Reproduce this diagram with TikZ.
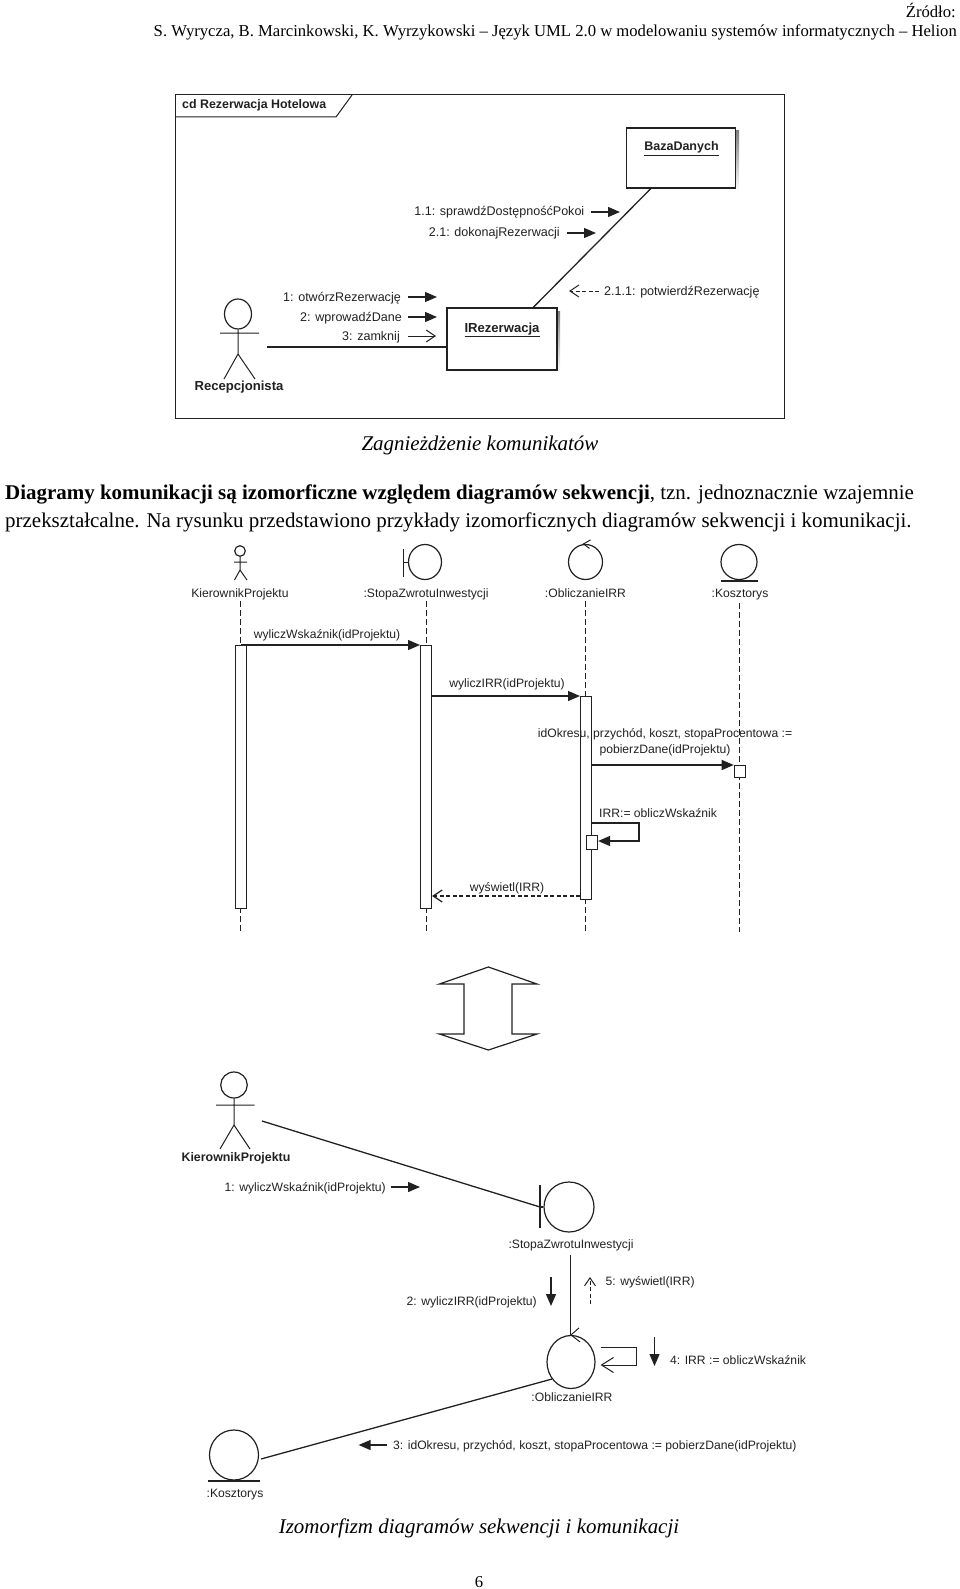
\documentclass[tikz,border=0pt]{standalone}
\usepackage{fontspec}
\setmainfont{Liberation Serif}
\setsansfont{Liberation Sans}
\usetikzlibrary{arrows.meta,shapes.geometric,calc}
\definecolor{ink}{gray}{0.13}
\definecolor{shade}{gray}{0.78}
\tikzset{
  x=1pt,y=-1pt,
  pagetxt/.style={inner sep=0,font=\rmfamily\fontsize{20.95}{25}\selectfont,text=black},
  headtxt/.style={inner sep=0,font=\rmfamily\fontsize{16.65}{20}\selectfont,text=black},
  lab/.style={inner sep=0,text height=10.5pt,text depth=2.5pt,font=\sffamily\fontsize{12.15}{14}\selectfont,text=ink},
  flab/.style={lab,font=\sffamily\fontsize{12.55}{14}\selectfont},
  blab/.style={inner sep=0,text height=10.5pt,text depth=2.5pt,font=\sffamily\bfseries\fontsize{12.4}{14}\selectfont,text=ink},
  fblab/.style={blab,font=\sffamily\bfseries\fontsize{13.1}{14}\selectfont},
  ln/.style={draw=ink,line width=1pt},
  lnh/.style={draw=ink,line width=1.3pt},
  filled/.style={ln,line width=1.3pt,-{Triangle[length=12pt,width=10pt]}},
  openh/.style={ln,-{Straight Barb[length=9pt,width=12pt]}},
  dashopen/.style={ln,dashed,dash pattern=on 4pt off 2.5pt,-{Straight Barb[length=9pt,width=12pt]}},
  life/.style={ln,dash pattern=on 6pt off 3pt},
  objbox/.style={rectangle,draw=ink,line width=1.2pt,fill=white,inner sep=0,align=center},
  actv/.style={rectangle,draw=ink,line width=1.1pt,fill=white,inner sep=0,anchor=north west},
  oval/.style={ellipse,draw=ink,line width=1.2pt,inner sep=0},
}
\begin{document}
\begin{tikzpicture}
\useasboundingbox (0,0) rectangle (960,1589);
% page text
\node[headtxt,anchor=east] (h1) at (956,10) {Źródło:};
\node[headtxt,anchor=east] (h2) at (957,32.5) {S. Wyrycza, B. Marcinkowski, K. Wyrzykowski – Język UML 2.0 w modelowaniu systemów informatycznych – Helion};
\node[pagetxt,anchor=center] (cap1) at (480,445) {\itshape Zagnieżdżenie komunikatów};
\node[pagetxt,anchor=west] (p1) at (5,494) {\textbf{Diagramy komunikacji są izomorficzne względem diagramów sekwencji}, tzn. jednoznacznie wzajemnie};
\node[pagetxt,anchor=west] (p2) at (5,522) {przekształcalne. Na rysunku przedstawiono przykłady izomorficznych diagramów sekwencji i komunikacji.};
\node[pagetxt,anchor=center] (cap2) at (479,1528) {\itshape Izomorfizm diagramów sekwencji i komunikacji};
\node[headtxt,anchor=center] (pg) at (479,1582) {6};

% ---- frame diagram
\draw[ln] (175,95) rectangle (784,418);
\draw[ln] (175,117) -- (336,117) -- (352,95);
\node[blab,anchor=west] (tab) at (182,105) {cd Rezerwacja Hotelowa};

\fill[shade] (629,131) rectangle (739,191);
\fill[shade] (450,311) rectangle (560,373);
\node[objbox,minimum width=109pt,minimum height=60pt] (baza) at (681,158) {};
\node[objbox,minimum width=110pt,minimum height=62pt] (irez) at (502,339) {};
\node[fblab,font=\sffamily\bfseries\fontsize{12.5}{14}\selectfont] (bazat) at (681.5,147) {\underline{BazaDanych}};
\node[fblab] (irezt) at (502,328) {\underline{IRezerwacja}};
\draw[lnh] (baza) -- (irez);

% actor 1
\node[oval,minimum width=27pt,minimum height=30pt] (a1h) at (238,314) {};
\coordinate (a1l) at (220,333);
\coordinate (a1r) at (259,333);
\coordinate (a1b) at (238,354);
\coordinate (a1f1) at (224,379);
\coordinate (a1f2) at (255,379);
\draw[ln] (a1h.south) -- (a1b) (a1l) -- (a1r) (a1f1) -- (a1b) -- (a1f2);
\node[fblab] (a1t) at (239,386) {Recepcjonista};
\coordinate (a1c) at (267,347);
\draw[lnh] (a1c) -- (a1c -| irez.west);

\node[flab,anchor=east] (m1) at (401,297) {1: otwórzRezerwację};
\node[flab,anchor=east] (m2) at (402,317) {2: wprowadźDane};
\node[flab,anchor=east] (m3) at (400,336) {3: zamknij};
\node[flab,anchor=east] (m4) at (584.5,212) {1.1: sprawdźDostępnośćPokoi};
\node[flab,anchor=east] (m5) at (560,233) {2.1: dokonajRezerwacji};
\node[flab,anchor=west] (m6) at (604,291) {2.1.1: potwierdźRezerwację};
\coordinate (m1e) at (437,297);
\coordinate (m2e) at (437,317);
\coordinate (m3e) at (436,336);
\coordinate (m4e) at (620,212);
\coordinate (m5e) at (596,233);
\coordinate (m6e) at (569,291);
\draw[filled] ([xshift=7pt]m1.east) -- (m1e);
\draw[filled] ([xshift=6pt]m2.east) -- (m2e);
\draw[openh] ([xshift=8pt]m3.east) -- (m3e);
\draw[filled] ([xshift=6.5pt]m4.east) -- (m4e);
\draw[filled] ([xshift=7pt]m5.east) -- (m5e);
\draw[dashopen] ([xshift=-5pt]m6.west) -- (m6e);

% ---- sequence diagram
\node[oval,minimum width=10.6pt,minimum height=10.6pt] (sa) at (240,551) {};
\coordinate (sb) at (240,570);
\draw[ln] (sa.south) -- (sb) (234,562) -- (247,562) (234.5,580) -- (sb) -- (247,580);
\node[lab] (sat) at (240,593) {KierownikProjektu};
\node[oval,minimum width=33pt,minimum height=35pt] (sbo) at (425,562) {};
\coordinate (sbb) at (403.5,562);
\draw[ln] (403.5,549) -- (403.5,577) (sbb) -- (sbo.west);
\node[lab] (sbt) at (426,593) {:StopaZwrotuInwestycji};
\node[oval,minimum width=34pt,minimum height=35pt] (sc) at (585.5,562) {};
\draw[ln] ($(sc.north)+(5,-4)$) -- ($(sc.north)+(-2,0)$) -- ($(sc.north)+(4,4.5)$);
\node[lab] (sct) at (585.5,593) {:ObliczanieIRR};
\node[oval,minimum width=36pt,minimum height=35pt] (sd) at (739,562) {};
\draw[lnh] (721,581) -- (758,581);
\node[lab] (sdt) at (740,593) {:Kosztorys};
\coordinate (l1t) at (240,601); \coordinate (l1b) at (240,932);
\coordinate (l2t) at (426,601); \coordinate (l2b) at (426,932);
\coordinate (l3t) at (585.5,601); \coordinate (l3b) at (585.5,932);
\coordinate (l4t) at (739,603); \coordinate (l4b) at (739,932);
\draw[life] (l1t) -- (l1b);
\draw[life] (l2t) -- (l2b);
\draw[life] (l3t) -- (l3b);
\draw[life] (l4t) -- (l4b);
\node[actv,minimum width=11pt,minimum height=263pt] (ba) at (235,645) {};
\node[actv,minimum width=11pt,minimum height=263pt] (bb) at (420,645) {};
\node[actv,minimum width=11pt,minimum height=203pt] (bc) at (580,696) {};
\node[actv,minimum width=11pt,minimum height=12pt] (bd) at (733.7,765) {};
\node[actv,minimum width=11pt,minimum height=14pt] (be) at (586,835) {};
\node[lab] (t1) at (327,634) {wyliczWskaźnik(idProjektu)};
\node[lab] (t2) at (507,683) {wyliczIRR(idProjektu)};
\node[inner sep=0,align=center,text=ink,font=\sffamily\fontsize{12.15}{16}\selectfont] (t3) at (665,742) {idOkresu, przychód, koszt, stopaProcentowa :=\\pobierzDane(idProjektu)};
\node[lab,anchor=west] (t4) at (599,813) {IRR:= obliczWskaźnik};
\node[lab] (t5) at (507,887) {wyświetl(IRR)};
\draw[filled] (ba.north) -- (bb.north west);
\draw[filled] (bb.east |- bc.north) -- (bc.north west);
\draw[filled] (bc.east |- bd.north) -- (bd.north west);
\coordinate (sl1) at (639,823);
\coordinate (sl2) at (639,841);
\draw[filled] (bc.east |- sl1) -- (sl1) -- (sl2) -- (be.east |- sl2);
\draw[dashopen,line width=1.2pt] (bc.west |- 0,896) -- (bb.east |- 0,896);

% ---- big double arrow
\coordinate (d1) at (488.4,967);
\coordinate (d2) at (537,984);
\coordinate (d3) at (512,984);
\coordinate (d4) at (512,1034);
\coordinate (d5) at (537,1034);
\coordinate (d6) at (488.4,1050);
\coordinate (d7) at (439.4,1034);
\coordinate (d8) at (464,1034);
\coordinate (d9) at (464,984);
\coordinate (d10) at (439.4,984);
\draw[ln,line width=1.2pt] (d1) -- (d2) -- (d3) -- (d4) -- (d5) -- (d6) -- (d7) -- (d8) -- (d9) -- (d10) -- cycle;

% ---- communication diagram
\node[oval,minimum width=26.5pt,minimum height=26pt] (ca) at (234,1085) {};
\coordinate (cab) at (234,1125);
\draw[ln] (ca.south) -- (cab) (216,1105) -- (254.5,1105) (220,1149) -- (cab) -- (250,1149);
\node[blab] (cat) at (236,1157) {KierownikProjektu};
\coordinate (cac) at (262,1121);
\node[oval,minimum width=50pt,minimum height=50pt] (cb) at (569,1207) {};
\coordinate (cbb) at (540,1207);
\draw[lnh] (540,1185) -- (540,1228) (cbb) -- (cb.west);
\draw[lnh] (cac) -- (cbb);
\node[lab] (cbt) at (571,1244) {:StopaZwrotuInwestycji};
\node[lab,anchor=east] (n1) at (386,1187) {1: wyliczWskaźnik(idProjektu)};
\coordinate (n1e) at (420,1187);
\draw[filled] ([xshift=5pt]n1.east) -- (n1e);
\node[oval,minimum width=48pt,minimum height=53pt] (cc) at (571,1362) {};
\coordinate (cct) at (570,1255);
\draw[ln] (cct) -- (cct |- cc.north);
\draw[ln] ($(cc.north)+(8,-7)$) -- ($(cc.north)+(0,0)$) -- ($(cc.north)+(9,7)$);
\node[lab] (cct2) at (572,1397) {:ObliczanieIRR};
\coordinate (cl1) at (600.6,1347);
\coordinate (cl2) at (636.5,1347);
\coordinate (cl3) at (636.5,1365);
\coordinate (cl4) at (600.6,1365);
\draw[ln,-{Straight Barb[length=12pt,width=15pt]}] (cl1) -- (cl2) -- (cl3) -- (cl4);
\node[lab,anchor=west] (n4) at (670,1360) {4: IRR := obliczWskaźnik};
\coordinate (n4s) at (654.5,1337);
\coordinate (n4e) at (654.5,1366);
\draw[filled] (n4s) -- (n4e);
\node[lab,anchor=east] (n2) at (537,1301) {2: wyliczIRR(idProjektu)};
\coordinate (n2s) at (551,1277);
\coordinate (n2e) at (551,1306);
\draw[filled] (n2s) -- (n2e);
\node[lab,anchor=west] (n5) at (605.5,1281) {5: wyświetl(IRR)};
\coordinate (n5s) at (590,1304);
\coordinate (n5e) at (590,1277);
\draw[ln,dashed,dash pattern=on 4pt off 2.5pt,-{Straight Barb[length=8pt,width=11pt]}] (n5s) -- (n5e);
\node[oval,minimum width=49pt,minimum height=50pt] (cd) at (234,1455) {};
\draw[lnh] (208,1481) -- (260,1481);
\node[lab] (cdt) at (235,1493) {:Kosztorys};
\coordinate (cdl) at (261,1459);
\coordinate (ccl) at (552,1379);
\draw[lnh] (cdl) -- (ccl);
\node[lab,anchor=west] (n3) at (393,1445) {3: idOkresu, przychód, koszt, stopaProcentowa := pobierzDane(idProjektu)};
\coordinate (n3e) at (358.6,1445);
\draw[filled] ([xshift=-6pt]n3.west) -- (n3e);
\end{tikzpicture}
\end{document}
